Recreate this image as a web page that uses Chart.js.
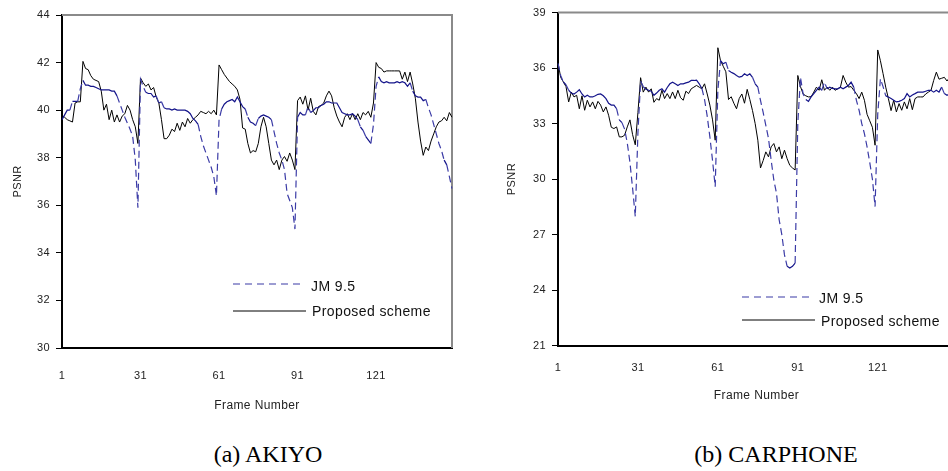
<!DOCTYPE html>
<html>
<head>
<meta charset="utf-8">
<script src="https://cdn.jsdelivr.net/npm/chart.js@4.4.1/dist/chart.umd.min.js"></script>
<style>
html, body { margin: 0; padding: 0; overflow: hidden; background: #fff; width: 948px; height: 471px; }
#akiyo { position: absolute; left: 0; top: 0; }
#carphone { position: absolute; left: 490px; top: 0; }
.caption { position: absolute; top: 442px; width: 240px; text-align: center;
  font-family: "Liberation Serif", "Times New Roman", serif; font-size: 24px; line-height: 24px; color: #000; }
</style>
</head>
<body>
<canvas id="akiyo" width="470" height="430"></canvas>
<canvas id="carphone" width="490" height="420"></canvas>
<div class="caption" style="left:148px">(a) AKIYO</div>
<div class="caption" style="left:656px">(b) CARPHONE</div>
<script>
// PSNR per frame (frames 1..150)
const akiyoJm = [
  39.6, 39.8, 40.0, 40.0, 40.37, 40.37, 40.37, 40.9, 41.25, 41.05,
  41.05, 41.0, 41.0, 40.95, 40.9, 40.85, 40.85, 40.85, 40.85, 40.8,
  40.8, 40.6, 40.3, 40.0, 39.7, 39.45, 39.2, 38.9, 37.9, 35.9,
  41.3, 41.0, 40.75, 40.7, 40.7, 40.55, 40.6, 40.3, 40.35, 40.1,
  40.05, 40.05, 40.0, 40.05, 40.0, 40.0, 40.0, 40.0, 39.95, 39.85,
  39.65, 39.55, 39.4, 38.9, 38.5, 38.2, 37.9, 37.6, 37.2, 36.4,
  39.6, 40.05, 40.25, 40.35, 40.4, 40.45, 40.35, 40.55, 40.35, 40.15,
  40.05, 39.7, 39.5, 39.45, 39.35, 39.65, 39.75, 39.8, 39.75, 39.7,
  39.6, 39.1, 38.6, 38.2, 37.9, 37.5, 36.5, 36.2, 35.9, 35.0,
  39.7, 39.9, 39.8, 39.8, 40.15, 39.9, 39.98, 40.1, 40.1, 40.2,
  40.25, 40.35, 40.35, 40.3, 40.3, 40.3, 40.1, 39.9, 39.85, 39.8,
  39.8, 39.85, 39.75, 39.6, 39.3, 39.15, 38.9, 38.75, 38.6, 39.4,
  41.0, 41.4, 41.2, 41.15, 41.2, 41.15, 41.15, 41.15, 41.2, 41.15,
  41.2, 41.15, 41.0, 41.15, 40.8, 40.6, 40.55, 40.55, 40.4, 40.45,
  40.1, 39.8, 39.4, 39.0, 38.6, 38.3, 37.9, 37.7, 37.2, 36.7
];
const akiyoProposed = [
  39.75, 39.7, 39.6, 39.55, 39.5, 40.3, 40.35, 40.35, 42.05, 41.75,
  41.7, 41.45, 41.3, 41.25, 41.2, 40.8, 40.0, 40.25, 39.6, 40.0,
  39.5, 39.8, 39.5, 39.75, 39.85, 40.2, 40.0, 39.6, 39.3, 38.6,
  41.35, 41.15, 41.0, 41.1, 40.85, 40.95, 40.55, 40.3, 39.6, 38.8,
  38.8, 38.95, 39.2, 39.1, 39.45, 39.15, 39.5, 39.3, 39.65, 39.45,
  39.6, 39.7, 39.8, 39.95, 39.9, 39.85, 39.95, 39.85, 40.0, 39.8,
  41.9, 41.7, 41.5, 41.35, 41.2, 41.1, 41.0, 40.85, 40.45, 39.25,
  39.2, 38.6, 38.2, 38.3, 38.25, 38.6, 39.3, 39.7, 39.3, 38.6,
  37.9, 37.7, 37.9, 37.5, 37.9, 38.05, 37.85, 38.2, 37.9, 37.5,
  40.4, 40.55, 40.25, 40.6, 40.0, 40.5, 39.95, 39.8, 40.15, 40.2,
  40.3, 40.6, 40.8, 40.6, 40.1, 39.75, 39.5, 39.3, 39.7, 39.85,
  39.6, 39.85, 39.6, 39.85, 39.6, 39.9, 39.8, 39.95, 39.7, 40.3,
  42.0, 41.8, 41.75, 41.6, 41.65, 41.65, 41.65, 41.65, 41.65, 41.65,
  41.3, 41.6, 41.2, 41.6, 41.1, 40.5, 39.5, 38.7, 38.1, 38.45,
  38.3, 38.7, 39.0, 39.3, 39.5, 39.55, 39.7, 39.55, 39.9, 39.7
];
const carphoneJm = [
  36.25, 35.6, 35.25, 35.1, 34.8, 34.65, 34.6, 34.7, 34.83, 34.6,
  34.44, 34.53, 34.44, 34.44, 34.5, 34.58, 34.6, 34.5, 34.35, 34.1,
  34.0, 34.0, 33.8, 33.2, 33.05, 32.7, 31.95, 30.9, 29.5, 27.97,
  32.5, 35.3, 35.0, 34.85, 34.8, 34.75, 34.53, 34.65, 34.8, 34.88,
  34.7, 34.95, 35.15, 35.24, 35.15, 35.06, 35.15, 35.15, 35.2, 35.24,
  35.33, 35.33, 35.35, 35.15, 34.9, 34.3, 33.4, 32.28, 31.0, 29.59,
  34.8, 36.41, 36.23, 36.32, 35.87, 35.78, 35.7, 35.6, 35.51, 35.55,
  35.69, 35.6, 35.69, 35.5, 35.15, 34.97, 34.25, 33.6, 32.9, 32.2,
  31.02, 29.95, 29.23, 27.8, 27.0, 25.9, 25.28, 25.19, 25.28, 25.46,
  33.0, 35.5, 34.6, 34.3, 34.2, 34.44, 34.62, 34.8, 34.97, 34.8,
  35.24, 34.88, 34.97, 34.9, 34.88, 34.88, 34.97, 34.88, 34.97, 35.06,
  35.24, 34.97, 34.25, 33.72, 33.0, 32.46, 31.74, 30.9, 30.0, 28.51,
  33.5, 35.42, 35.0, 34.5, 34.44, 34.35, 34.26, 34.17, 34.2, 34.26,
  34.35, 34.62, 34.44, 34.55, 34.62, 34.7, 34.7, 34.7, 34.75, 34.8,
  34.8, 34.7, 34.8, 34.7, 34.97, 34.62, 34.53, 34.6, 34.55, 34.6
];
const carphoneProposed = [
  36.3, 35.5, 35.25, 35.0, 34.17, 34.7, 34.44, 34.53, 33.8, 34.5,
  33.72, 34.26, 33.9, 34.17, 33.8, 34.2, 34.0, 33.63, 33.9, 33.45,
  32.8, 32.73, 32.82, 32.28, 32.28, 32.37, 32.82, 33.2, 32.4, 31.85,
  33.6, 35.48, 34.7, 34.97, 34.7, 34.88, 34.15, 34.35, 34.26, 34.8,
  34.35, 34.62, 34.35, 34.71, 34.35, 34.8, 34.4, 34.26, 34.75, 34.62,
  34.88, 34.97, 35.06, 34.97, 34.88, 35.15, 34.6, 34.0, 33.2, 32.1,
  37.1, 36.4, 36.1, 35.8, 34.3, 34.45, 34.1, 33.8, 34.35, 34.6,
  34.1, 34.85, 34.3, 33.7, 33.0, 32.1, 30.6, 31.0, 31.47, 31.2,
  31.74, 31.92, 31.47, 31.74, 31.1, 31.56, 31.1, 30.74, 30.6, 30.49,
  35.6, 35.0, 34.6, 34.5, 34.44, 34.45, 34.7, 34.97, 34.8, 35.37,
  34.8, 34.97, 34.8, 34.97, 34.8, 34.88, 34.97, 35.6, 35.24, 34.97,
  35.0, 34.8, 34.62, 34.35, 34.7, 34.26, 33.5, 33.15, 32.8, 31.83,
  36.98, 36.4, 35.7, 34.97, 34.35, 33.7, 34.26, 33.63, 34.08, 33.72,
  34.17, 33.8, 34.35, 33.75, 34.35, 34.44, 34.44, 34.44, 34.6, 34.7,
  34.8, 35.33, 35.78, 35.4, 35.45, 35.5, 35.3, 35.5, 35.4, 35.3
];
const frames = akiyoJm.map((_, i) => i + 1);
const xTickFrames = [1, 31, 61, 91, 121];
const seriesNames = ['JM 9.5', 'Proposed scheme'];

Chart.defaults.font.family = '"Liberation Sans", Arial, sans-serif';
Chart.defaults.color = '#222';

// Excel restarts the dash on every segment, so short steps look solid
function segLen(c) {
  return Math.hypot(c.p1.x - c.p0.x, c.p1.y - c.p0.y);
}

const spacingPlugin = {
  id: 'spacing',
  beforeUpdate(chart) { chart.ctx.letterSpacing = '0.4px'; },
  beforeDraw(chart) { chart.ctx.letterSpacing = '0.4px'; }
};

const framePlugin = {
  id: 'plotFrame',
  beforeDatasetsDraw(chart) {
    const { ctx, chartArea: a } = chart;
    ctx.save();
    ctx.strokeStyle = '#8a8a8a';
    ctx.lineWidth = 2;
    ctx.beginPath();
    ctx.moveTo(a.left, a.top);
    ctx.lineTo(a.right, a.top);
    ctx.lineTo(a.right, a.bottom);
    ctx.stroke();
    ctx.restore();
  }
};

const legendPlugin = {
  id: 'inlineLegend',
  afterDraw(chart, args, opts) {
    const ctx = chart.ctx;
    ctx.save();
    ctx.letterSpacing = '0.4px';
    opts.items.forEach((it, i) => {
      ctx.beginPath();
      ctx.lineWidth = i === 0 ? 1.2 : 1;
      ctx.strokeStyle = i === 0 ? '#3b3ba6' : '#000';
      ctx.setLineDash(i === 0 ? [7, 5] : []);
      ctx.moveTo(it.x1, it.y);
      ctx.lineTo(it.x2, it.y);
      ctx.stroke();
      ctx.setLineDash([]);
      ctx.fillStyle = '#111';
      ctx.font = '14px "Liberation Sans", Arial, sans-serif';
      ctx.textBaseline = 'middle';
      ctx.textAlign = 'left';
      ctx.fillText(seriesNames[i], it.tx, it.ty);
    });
    ctx.restore();
  }
};

function drawGraph(id, cfg) {
  new Chart(document.getElementById(id), {
    type: 'line',
    data: {
      labels: frames,
      datasets: [
        {
          label: seriesNames[0],
          data: cfg.jm,
          borderColor: '#14148a',
          borderWidth: 1.2,
          segment: {
            borderDash: c => segLen(c) > 6 ? [7, 4] : undefined,
            borderColor: c => segLen(c) > 6 ? '#3b3ba6' : undefined
          }
        },
        {
          label: seriesNames[1],
          data: cfg.prop,
          borderColor: '#000',
          borderWidth: 1
        }
      ]
    },
    options: {
      responsive: false,
      animation: false,
      layout: { padding: cfg.padding },
      elements: { point: { radius: 0 }, line: { tension: 0 } },
      plugins: {
        legend: { display: false },
        tooltip: { enabled: false },
        inlineLegend: { items: cfg.legend }
      },
      scales: {
        x: {
          type: 'category',
          offset: false,
          grid: { display: false, drawTicks: false },
          border: { display: true, color: '#000', width: 2 },
          ticks: { autoSkip: false, maxRotation: 0, padding: cfg.xTickPad, font: { size: 11 } },
          afterBuildTicks: s => { s.ticks = s.ticks.filter(t => xTickFrames.includes(frames[t.value])); },
          afterFit: s => { s.height = cfg.xAxisHeight; },
          title: { display: true, text: 'Frame Number', font: { size: 12 }, padding: { top: 0, bottom: 17.1 } }
        },
        y: {
          min: cfg.yMin,
          max: cfg.yMax,
          ticks: { stepSize: cfg.yStep, padding: 6, font: { size: 11 } },
          grid: { drawOnChartArea: false, drawTicks: true, tickLength: 6, color: '#000' },
          border: { display: true, color: '#000', width: 2 },
          afterFit: s => { s.width = cfg.yAxisWidth; },
          title: { display: true, text: 'PSNR', font: { size: 11 }, padding: { top: cfg.yTitlePad, bottom: 0 } }
        }
      }
    },
    plugins: [spacingPlugin, framePlugin, legendPlugin]
  });
}

drawGraph('akiyo', {
  jm: akiyoJm, prop: akiyoProposed,
  yMin: 30, yMax: 44, yStep: 2,
  padding: { left: 0, top: 15, right: 18, bottom: 0 },
  yAxisWidth: 62, xAxisHeight: 82, xTickPad: 21, yTitlePad: 11.4,
  legend: [
    { x1: 233, x2: 303, y: 284, tx: 311, ty: 287.5 },
    { x1: 233, x2: 306, y: 311, tx: 312, ty: 312.5 }
  ]
});

drawGraph('carphone', {
  jm: carphoneJm, prop: carphoneProposed,
  yMin: 21, yMax: 39, yStep: 3,
  padding: { left: 0, top: 11.5, right: 25, bottom: 0 },
  yAxisWidth: 68, xAxisHeight: 74.5, xTickPad: 15.6, yTitlePad: 15.4,
  legend: [
    { x1: 252, x2: 322, y: 297, tx: 329, ty: 299.5 },
    { x1: 252, x2: 325, y: 320, tx: 331, ty: 322.5 }
  ]
});
</script>
</body>
</html>
